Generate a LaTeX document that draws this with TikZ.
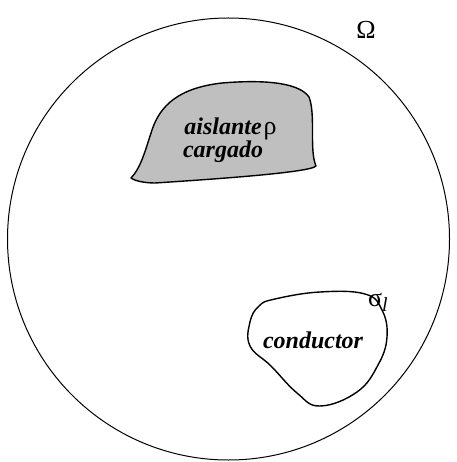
\documentclass[tikz,border=0pt]{standalone}
\usepackage{fontspec}
\setmainfont{Liberation Serif}
\usepackage{tikz}
\begin{document}
\begin{tikzpicture}[
  x=1pt,y=-1pt,
  region/.style={draw,line width=1.4pt,line join=round},
  lab/.style={font=\fontsize{24}{23}\selectfont\bfseries\itshape,align=center,inner sep=0pt},
  sym/.style={font=\fontsize{26}{26}\selectfont,inner sep=0pt}
]
\useasboundingbox (0,0) rectangle (456,462);
\draw[line width=1pt] (228.5,239) circle[radius=221];
\draw[region,fill=black!25] (131,178) .. controls (141,168) and (146,148) .. (152,130)
  .. controls (160,106) and (178,88) .. (222,83) .. controls (270,79) and (300,84) .. (309,97)
  .. controls (316,115) and (309,150) .. (316,166) .. controls (310,173) and (200,180) .. (155,183)
  .. controls (145,183) and (135,181) .. (131,178) -- cycle;
\draw[region] plot[smooth cycle,tension=0.7] coordinates {(275,299) (320,292) (365,294) (382,310)
  (387,337) (378,365) (357,392) (320,406) (297,393) (271,366) (250,346) (250,322) (259,306)};
\node[lab] (ins) at (223,140) {aislante\\cargado};
\node[sym] (rho) at (270,131) {ρ};
\node[lab] (cond) at (313,340) {conductor};
\node[sym] (sig) at (378,302) {σ\raisebox{-5pt}{\fontsize{20}{20}\selectfont\itshape l}};
\node[sym] (om) at (366,30) {Ω};
\end{tikzpicture}
\end{document}
